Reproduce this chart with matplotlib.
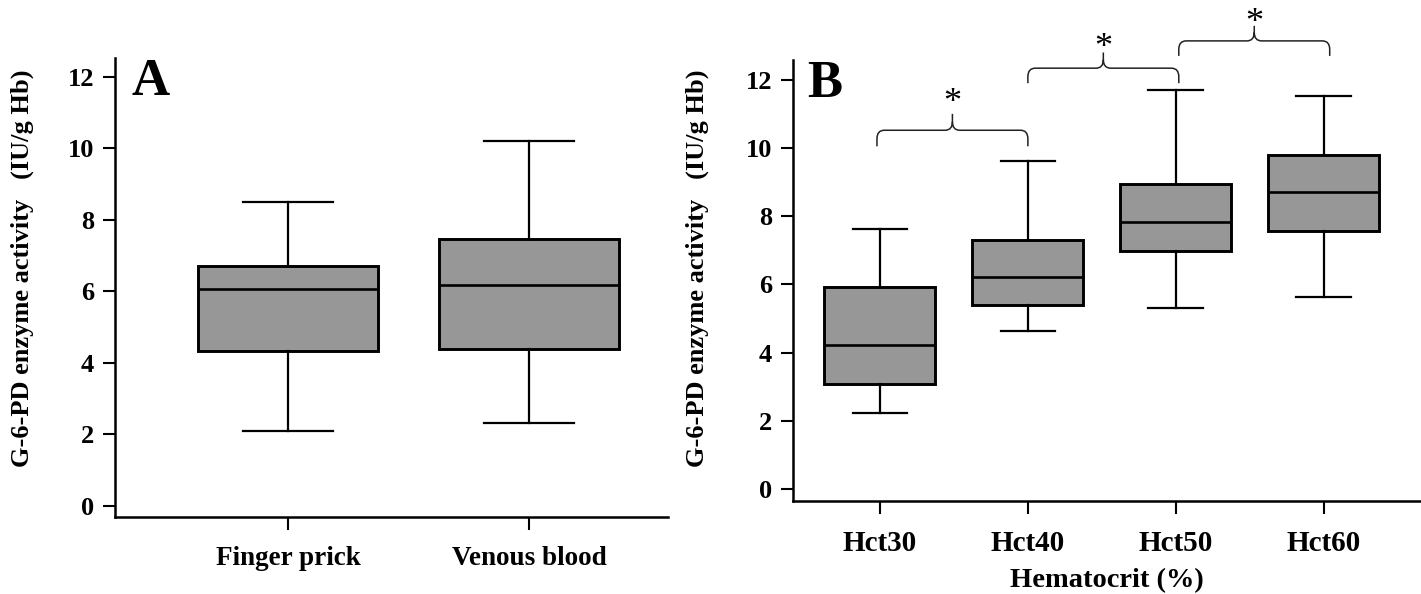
import numpy as np
import matplotlib
matplotlib.use('Agg')
import matplotlib.pyplot as plt
from matplotlib.path import Path
from matplotlib.patches import PathPatch

plt.rcParams['font.family'] = ['Liberation Serif', 'DejaVu Serif']
plt.rcParams['font.weight'] = 'bold'

# panel A data (box summary)
groups_a = ['Finger prick', 'Venous blood']
whislo_a = [2.1, 2.32]
q1_a = [4.34, 4.39]
med_a = [6.07, 6.18]
q3_a = [6.70, 7.46]
whishi_a = [8.50, 10.20]

# panel B data
groups_b = ['Hct30', 'Hct40', 'Hct50', 'Hct60']
whislo_b = [2.22, 4.62, 5.31, 5.62]
q1_b = [3.08, 5.40, 6.98, 7.57]
med_b = [4.21, 6.22, 7.82, 8.70]
q3_b = [5.92, 7.31, 8.93, 9.80]
whishi_b = [7.61, 9.62, 11.71, 11.52]

# significance brackets: (from, to, end y, bar y, tip y, star y)
brackets = [
    (0.98, 2.00, 10.05, 10.52, 11.0, 11.30),
    (2.00, 3.02, 11.90, 12.34, 12.8, 12.92),
    (3.02, 4.04, 12.70, 13.14, 13.58, 13.66),
]

ylabel = 'G-6-PD enzyme activity   (IU/g Hb)'
face = '#979797'


def make_stats(lo, a, m, b, hi):
    return [dict(whislo=w0, q1=x1, med=x2, q3=x3, whishi=w1, fliers=[])
            for w0, x1, x2, x3, w1 in zip(lo, a, m, b, hi)]


def draw_boxes(ax, stats):
    n = len(stats)
    ax.bxp(stats, positions=range(1, n + 1), widths=0.75, capwidths=0.37,
           showfliers=False, patch_artist=True,
           boxprops=dict(facecolor=face, edgecolor='black', linewidth=2.1),
           medianprops=dict(color='black', linewidth=1.9),
           whiskerprops=dict(color='black', linewidth=1.6),
           capprops=dict(color='black', linewidth=1.6))


def style(ax, xsize):
    for s in ['top', 'right']:
        ax.spines[s].set_visible(False)
    for s in ['left', 'bottom']:
        ax.spines[s].set_linewidth(1.8)
    ax.set_yticks(np.arange(0, 13, 2))
    ax.tick_params(axis='both', direction='out', length=9, width=1.5)
    ax.tick_params(axis='y', labelsize=19, pad=6)
    ax.tick_params(axis='x', labelsize=xsize, pad=12)
    for lab in ax.get_xticklabels() + ax.get_yticklabels():
        lab.set_fontweight('bold')


def brace(ax, x0, x1, ye, yb, yt, rx=0.05, ry=0.25):
    xm = (x0 + x1) / 2
    verts = [(x0, ye), (x0, yb - ry), (x0, yb), (x0 + rx, yb),
             (xm - rx, yb), (xm, yb), (xm, yb + ry), (xm, yt),
             (xm, yb + ry), (xm, yb), (xm + rx, yb),
             (x1 - rx, yb), (x1, yb), (x1, yb - ry), (x1, ye)]
    codes = [Path.MOVETO, Path.LINETO, Path.CURVE3, Path.CURVE3,
             Path.LINETO, Path.CURVE3, Path.CURVE3, Path.LINETO,
             Path.MOVETO, Path.CURVE3, Path.CURVE3,
             Path.LINETO, Path.CURVE3, Path.CURVE3, Path.LINETO]
    ax.add_patch(PathPatch(Path(verts, codes), fill=False, edgecolor='#222222',
                           linewidth=1.1, clip_on=False))


fig = plt.figure(figsize=(14.21, 5.94), dpi=100)

# panel A
ax1 = fig.add_axes([0.0809, 0.1296, 0.3892, 0.7727])
draw_boxes(ax1, make_stats(whislo_a, q1_a, med_a, q3_a, whishi_a))
ax1.set_xlim(0.282, 2.577)
ax1.set_ylim(-0.31, 12.53)
ax1.set_xticks([1, 2])
ax1.set_xticklabels(groups_a)
style(ax1, 19.5)
ax1.text(0.03, 1.0, 'A', transform=ax1.transAxes, fontsize=38,
         fontweight='bold', va='top', ha='left')
fig.text(0.0155, 0.548, ylabel, rotation=90, fontsize=19, fontweight='bold',
         ha='center', va='center')

# panel B
ax2 = fig.add_axes([0.558, 0.1566, 0.442, 0.7424])
draw_boxes(ax2, make_stats(whislo_b, q1_b, med_b, q3_b, whishi_b))
ax2.set_xlim(0.412, 4.657)
ax2.set_ylim(-0.35, 12.58)
ax2.set_xticks(range(1, len(groups_b) + 1))
ax2.set_xticklabels(groups_b)
style(ax2, 21)
ax2.set_xlabel('Hematocrit (%)', fontsize=20.5, fontweight='bold', labelpad=8)
ax2.text(0.022, 1.0, 'B', transform=ax2.transAxes, fontsize=38,
         fontweight='bold', va='top', ha='left')
fig.text(0.4905, 0.548, ylabel, rotation=90, fontsize=19, fontweight='bold',
         ha='center', va='center')

for x0, x1, ye, yb, yt, ys in brackets:
    brace(ax2, x0, x1, ye, yb, yt)
    ax2.text((x0 + x1) / 2, ys, '*', fontsize=26, fontweight='normal',
             ha='center', va='center', clip_on=False)

fig.savefig('out.png', dpi=100, facecolor='white')
